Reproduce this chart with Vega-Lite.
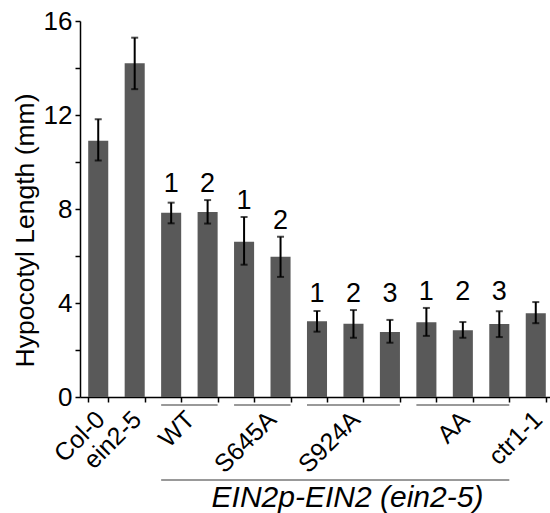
{
  "$schema": "https://vega.github.io/schema/vega-lite/v6.json",
  "width": 474,
  "height": 376,
  "autosize": {"type": "none"},
  "padding": {"left": 80, "top": 21, "right": 0, "bottom": 116},
  "background": "white",
  "config": {
    "font": "Liberation Sans",
    "view": {"stroke": null},
    "axis": {"domainColor": "black", "tickColor": "black", "labelColor": "black", "titleColor": "black", "domainWidth": 1.5, "tickWidth": 1.5, "grid": false}
  },
  "datasets": {
    "bars": [
      {"id": "Col-0", "rep": "", "lset": "a", "mean": 10.9, "lo": 10.06, "hi": 11.82},
      {"id": "ein2-5", "rep": "", "lset": "b", "mean": 14.2, "lo": 13.1, "hi": 15.29},
      {"id": "WT1", "rep": "1", "lset": "WT", "mean": 7.84, "lo": 7.39, "hi": 8.27},
      {"id": "WT2", "rep": "2", "lset": "WT", "mean": 7.87, "lo": 7.38, "hi": 8.38},
      {"id": "S645A1", "rep": "1", "lset": "S645A1", "mean": 6.61, "lo": 5.63, "hi": 7.66},
      {"id": "S645A2", "rep": "2", "lset": "S645A2", "mean": 5.97, "lo": 5.11, "hi": 6.82},
      {"id": "S924A1", "rep": "1", "lset": "S924A", "mean": 3.22, "lo": 2.78, "hi": 3.66},
      {"id": "S924A2", "rep": "2", "lset": "S924A", "mean": 3.12, "lo": 2.52, "hi": 3.7},
      {"id": "S924A3", "rep": "3", "lset": "S924A", "mean": 2.77, "lo": 2.31, "hi": 3.28},
      {"id": "AA1", "rep": "1", "lset": "AA", "mean": 3.18, "lo": 2.6, "hi": 3.79},
      {"id": "AA2", "rep": "2", "lset": "AA", "mean": 2.84, "lo": 2.52, "hi": 3.19},
      {"id": "AA3", "rep": "3", "lset": "AA", "mean": 3.11, "lo": 2.55, "hi": 3.65},
      {"id": "ctr1-1", "rep": "", "lset": "c", "mean": 3.56, "lo": 3.14, "hi": 4.04}
    ],
    "groups": [
      {"start": "WT1", "end": "WT2"},
      {"start": "S645A1", "end": "S645A2"},
      {"start": "S924A1", "end": "S924A3"},
      {"start": "AA1", "end": "AA3"}
    ],
    "span": [
      {"start": "WT1", "end": "AA3"}
    ]
  },
  "layer": [
    {
      "data": {"name": "bars"},
      "mark": {"type": "bar", "color": "#595959"},
      "encoding": {
        "x": {
          "field": "id", "type": "nominal", "sort": null,
          "scale": {"domain": ["Col-0", "ein2-5", "WT1", "WT2", "S645A1", "S645A2", "S924A1", "S924A2", "S924A3", "AA1", "AA2", "AA3", "ctr1-1"], "paddingInner": 0.45, "paddingOuter": 0.225},
          "axis": {
            "tickBand": "extent",
            "tickSize": 5,
            "labelAngle": -45,
            "labelAlign": "right",
            "labelBaseline": "middle",
            "labelFontSize": 25,
            "labelPadding": 13,
            "labelOffset": {"condition": [{"test": "datum.value === 'WT1'", "value": 19}, {"test": "datum.value === 'S645A2'", "value": -9}], "value": 2},
            "labelExpr": "datum.value === 'WT1' ? 'WT' : datum.value === 'S645A2' ? 'S645A' : datum.value === 'S924A2' ? 'S924A' : datum.value === 'AA2' ? 'AA' : (datum.value === 'Col-0' || datum.value === 'ein2-5' || datum.value === 'ctr1-1') ? datum.value : ''",
            "title": "EIN2p-EIN2 (ein2-5)",
            "titleFontStyle": "italic",
            "titleFontWeight": "normal",
            "titleFontSize": 30,
            "titleX": 267,
            "titleY": 100,
            "titleBaseline": "middle",
            "titleAlign": "center"
          }
        },
        "y": {
          "field": "mean", "type": "quantitative", "title": "Hypocotyl Length (mm)",
          "scale": {"domain": [0, 16], "nice": false},
          "axis": {
            "values": [0, 2, 4, 6, 8, 10, 12, 14, 16],
            "labelExpr": "datum.value % 4 === 0 ? datum.label : ''",
            "tickSize": 5,
            "labelFontSize": 26,
            "labelPadding": 3,
            "titleFontSize": 26.5,
            "titleFontWeight": "normal",
            "titleX": -55,
            "titleY": 209,
            "titleBaseline": "middle",
            "titleAlign": "center",
            "titleAngle": -90
          }
        }
      }
    },
    {
      "data": {"name": "bars"},
      "mark": {"type": "errorbar", "ticks": {"size": 7, "thickness": 2, "color": "black"}, "rule": {"strokeWidth": 2, "color": "black"}},
      "encoding": {
        "x": {"field": "id", "type": "nominal", "sort": null},
        "y": {"field": "lo", "type": "quantitative", "title": "Hypocotyl Length (mm)"},
        "y2": {"field": "hi"}
      }
    },
    {
      "data": {"name": "bars"},
      "transform": [
        {"joinaggregate": [{"op": "max", "field": "hi", "as": "top"}], "groupby": ["lset"]},
        {"filter": "datum.rep !== ''"}
      ],
      "mark": {"type": "text", "fontSize": 27, "baseline": "alphabetic", "dy": -8, "color": "black"},
      "encoding": {
        "x": {"field": "id", "type": "nominal", "sort": null},
        "y": {"field": "top", "type": "quantitative", "title": "Hypocotyl Length (mm)"},
        "text": {"field": "rep"}
      }
    },
    {
      "data": {"name": "groups"},
      "mark": {"type": "rule", "color": "#777777", "strokeWidth": 1.5, "xOffset": -10, "x2Offset": 10, "yOffset": 8},
      "encoding": {
        "x": {"field": "start", "type": "nominal", "sort": null},
        "x2": {"field": "end"},
        "y": {"datum": 0}
      }
    },
    {
      "data": {"name": "span"},
      "mark": {"type": "rule", "color": "#777777", "strokeWidth": 1.5, "xOffset": -10, "x2Offset": 10, "yOffset": 83},
      "encoding": {
        "x": {"field": "start", "type": "nominal", "sort": null},
        "x2": {"field": "end"},
        "y": {"datum": 0}
      }
    }
  ]
}
